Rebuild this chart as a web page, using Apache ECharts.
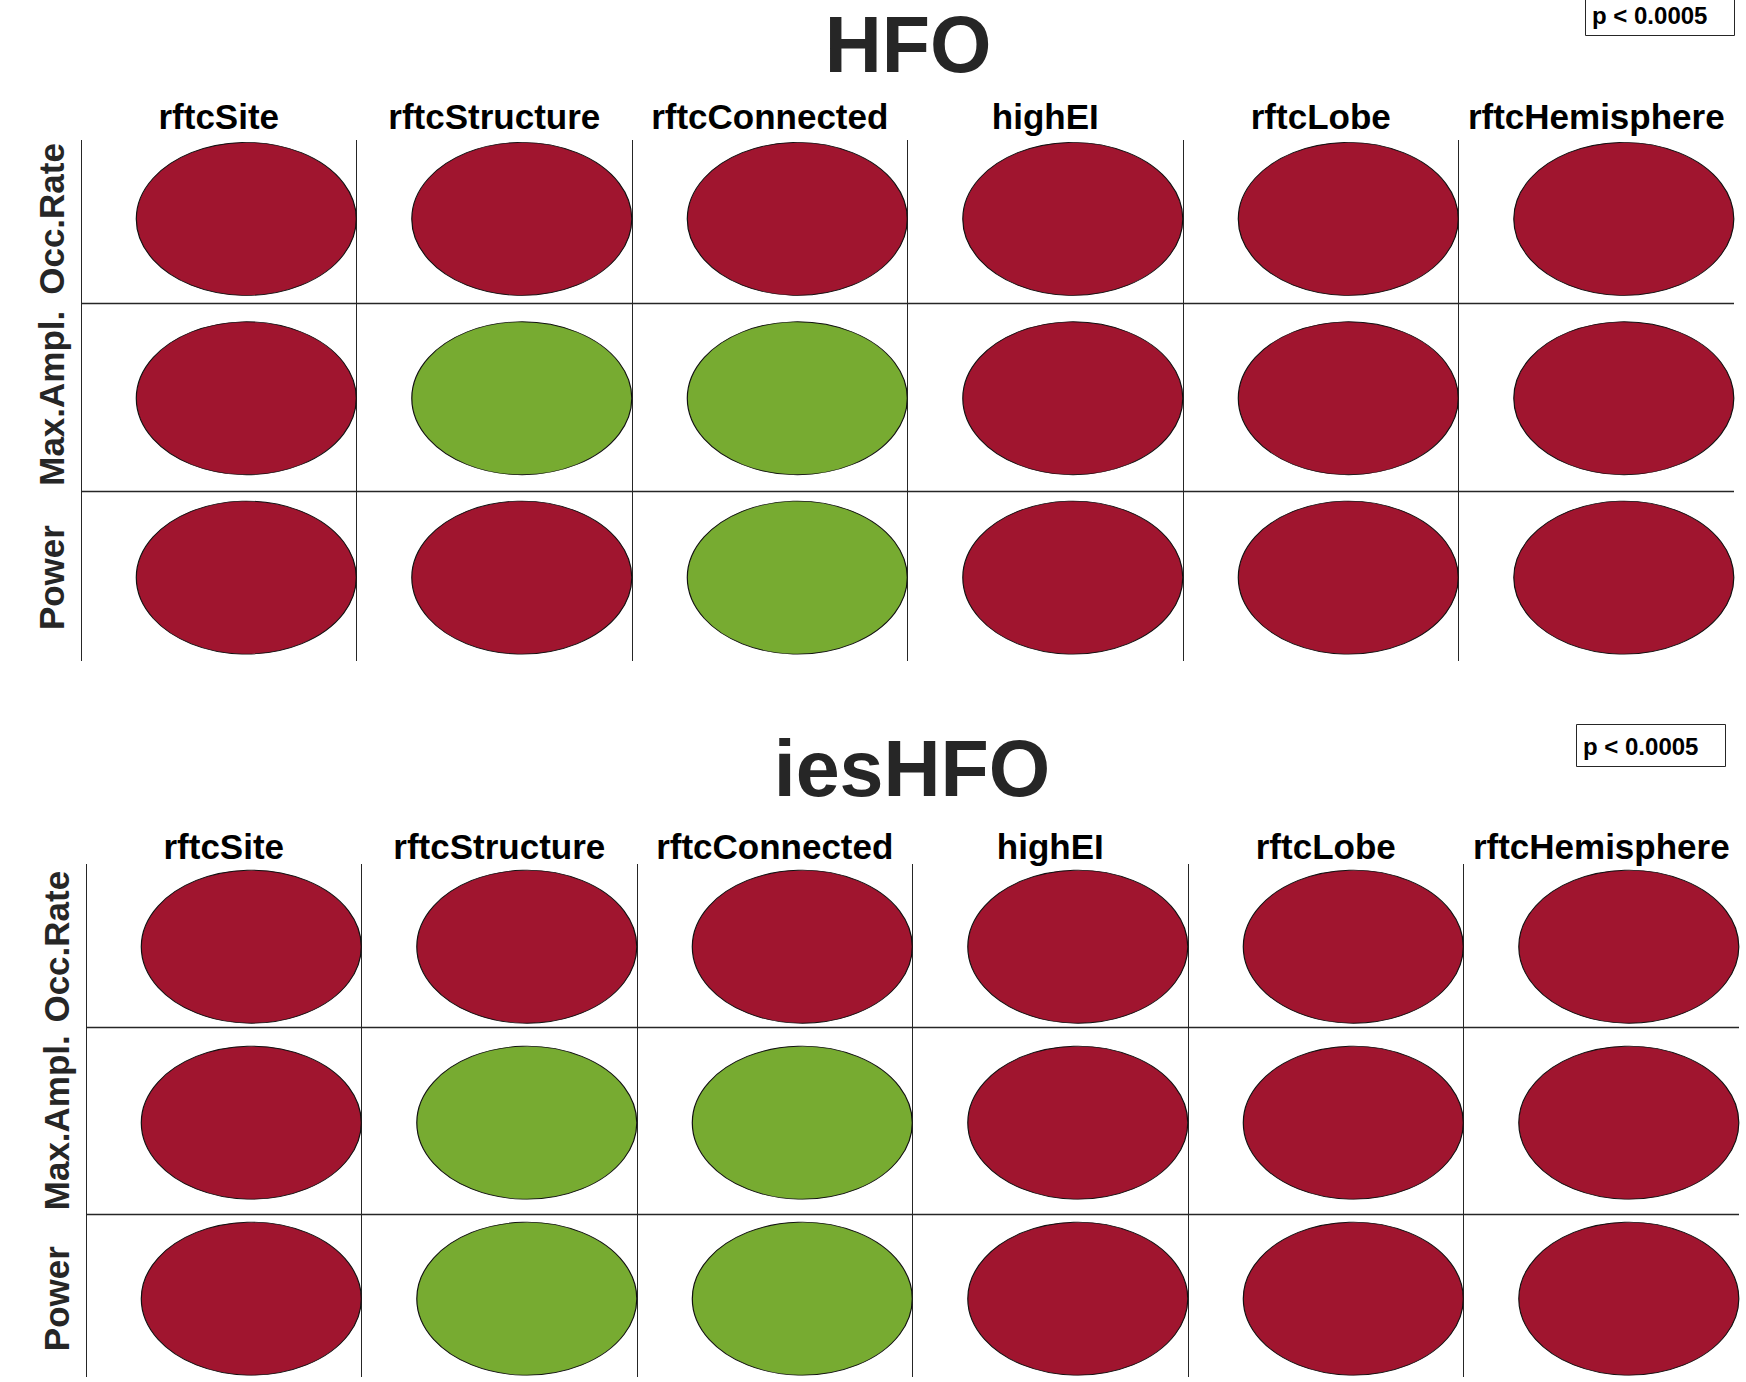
<!DOCTYPE html>
<html>
<head>
<meta charset="utf-8">
<title>HFO / iesHFO</title>
<script src="https://cdn.jsdelivr.net/npm/echarts@6/dist/echarts.min.js"></script>
<style>
  html, body { margin: 0; padding: 0; background: #fff; }
  #chart { width: 1746px; height: 1382px; }
</style>
</head>
<body>
<div id="chart"></div>
<script>
  // columns (targets) and rows (features)
  const targets = ['rftcSite', 'rftcStructure', 'rftcConnected', 'highEI', 'rftcLobe', 'rftcHemisphere']
  const features = ['Occ.Rate', 'Max.Ampl.', 'Power']
  const pText = 'p < 0.0005'

  // 1 = red ellipse, -1 = green ellipse, one list per feature row
  const hfoOccRate = [1, 1, 1, 1, 1, 1]
  const hfoMaxAmpl = [1, -1, -1, 1, 1, 1]
  const hfoPower = [1, 1, -1, 1, 1, 1]
  const iesOccRate = [1, 1, 1, 1, 1, 1]
  const iesMaxAmpl = [1, -1, -1, 1, 1, 1]
  const iesPower = [1, -1, -1, 1, 1, 1]

  const RED = '#a0152f'
  const GREEN = '#77ab31'
  const LINE = '#262626'
  const NARROW = "'Liberation Sans Narrow', 'Arial Narrow', 'Liberation Sans', Arial, sans-serif"
  const SANS = "'Liberation Sans', Arial, sans-serif"

  // panel layout (pixels / axis ranges)
  const panels = [
    { name: 'HFO', rows: [hfoOccRate, hfoMaxAmpl, hfoPower],
      left: 81, top: 140, width: 1653, height: 521, yMin: -0.44, yMax: 2.465, seps: [0.475, 1.517],
      headMargin: 6, titleX: 908, titleTop: 5, boxLeft: 1585, boxTop: -7 },
    { name: 'iesHFO', rows: [iesOccRate, iesMaxAmpl, iesPower],
      left: 86, top: 864, width: 1653, height: 513, yMin: -0.47, yMax: 2.445, seps: [0.456, 1.518],
      headMargin: 0, titleX: 912, titleTop: 729, boxLeft: 1576, boxTop: 724 }
  ]

  const chart = echarts.init(document.getElementById('chart'), null, { renderer: 'svg' })

  const option = {
    backgroundColor: '#fff',
    animation: false,
    textStyle: { fontFamily: SANS },
    title: [],
    grid: [],
    xAxis: [],
    yAxis: [],
    series: []
  }

  panels.forEach(function (p, k) {
    option.title.push({
      text: p.name,
      left: p.titleX,
      top: p.titleTop,
      textAlign: 'center',
      padding: 0,
      textStyle: { fontSize: 79, fontWeight: 'bold', color: LINE, fontFamily: SANS }
    })
    option.title.push({
      text: pText,
      left: p.boxLeft,
      top: p.boxTop,
      padding: [10, 27, 9, 7],
      borderColor: LINE,
      borderWidth: 1,
      textStyle: { fontSize: 24, fontWeight: 'bold', color: '#000', fontFamily: SANS }
    })
    option.grid.push({ left: p.left, top: p.top, width: p.width, height: p.height, containLabel: false })

    // header axis: category cells, split lines = column borders
    option.xAxis.push({
      type: 'category',
      gridIndex: k,
      position: 'top',
      data: targets,
      boundaryGap: true,
      axisLine: { show: false },
      axisTick: { show: false },
      axisLabel: {
        interval: 0,
        margin: p.headMargin,
        fontSize: 35,
        fontWeight: 'bold',
        color: '#000',
        fontFamily: NARROW
      },
      splitLine: { show: true, interval: 0, showMaxLine: false, lineStyle: { color: LINE, width: 1 } }
    })
    // ellipse axis
    option.xAxis.push({
      type: 'value',
      gridIndex: k,
      min: -0.6,
      max: 5.4,
      show: false
    })
    option.yAxis.push({
      type: 'value',
      gridIndex: k,
      inverse: true,
      min: p.yMin,
      max: p.yMax,
      axisLine: { show: false },
      axisTick: { show: false },
      splitLine: { show: false },
      axisLabel: {
        rotate: 90,
        margin: 12,
        fontSize: 35,
        fontWeight: 'bold',
        color: LINE,
        fontFamily: SANS,
        formatter: function (v) {
          return Number.isInteger(v) && features[v] !== undefined ? features[v] : ''
        }
      }
    })

    const data = []
    p.rows.forEach(function (row, r) {
      row.forEach(function (s, c) {
        data.push([c, r, s])
      })
    })

    option.series.push({
      type: 'scatter',
      name: p.name,
      xAxisIndex: k * 2 + 1,
      yAxisIndex: k,
      symbol: 'circle',
      symbolSize: [220, 153],
      silent: true,
      data: data,
      itemStyle: {
        color: function (d) { return d.value[2] > 0 ? RED : GREEN },
        borderColor: '#111',
        borderWidth: 1,
        opacity: 1
      },
      markLine: {
        silent: true,
        symbol: 'none',
        label: { show: false },
        lineStyle: { color: LINE, width: 1.3, type: 'solid' },
        data: p.seps.map(function (v) { return { yAxis: v } })
      }
    })
  })

  chart.setOption(option)
  window.onresize = function () { chart.resize() }
</script>
</body>
</html>
